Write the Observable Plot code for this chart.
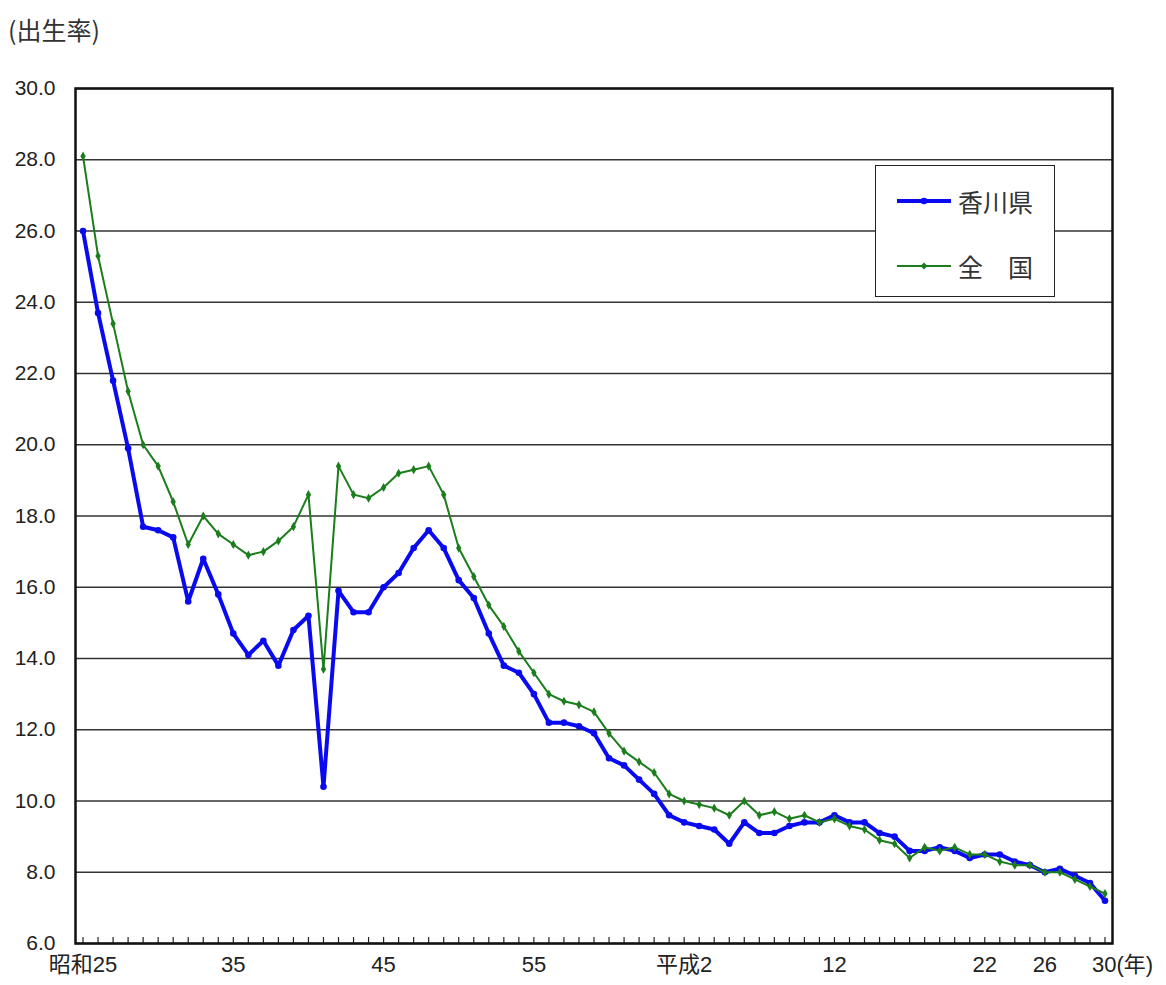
<!DOCTYPE html>
<html>
<head>
<meta charset="utf-8">
<script src="https://cdn.jsdelivr.net/npm/d3@7"></script>
<script src="https://cdn.jsdelivr.net/npm/@observablehq/plot@0.6"></script>
<style>
  body { margin: 0; background: #fff; }
  #wrap { position: relative; width: 1166px; height: 985px; font-family: "Liberation Sans", "Noto Sans CJK JP", sans-serif; color: #222; }
  #title { height: 60px; position: relative; }
  #title span { position: absolute; left: 8px; top: 12px; font-size: 25px; line-height: 34px; font-family: "Noto Sans CJK JP", sans-serif; color: #333; }
  #legend { position: absolute; left: 875px; top: 165px; width: 178px; height: 130px; border: 1.5px solid #222; background: #fff; }
  .row { position: absolute; left: 0; height: 40px; width: 178px; }
  .row svg { position: absolute; left: 20px; top: 0; }
  .row .lbl { position: absolute; left: 82px; top: 0; line-height: 40px; font-size: 25px; font-family: "Noto Sans CJK JP", sans-serif; color: #333; white-space: pre; }
</style>
</head>
<body>
<div id="wrap">
  <div id="title"><span>(出生率)</span></div>
  <div id="chart"></div>
  <div id="legend"></div>
</div>
<script>
// Years (昭和25 = 1950 … 平成30 = 2018)
const years = [1950,1951,1952,1953,1954,1955,1956,1957,1958,1959,
  1960,1961,1962,1963,1964,1965,1966,1967,1968,1969,
  1970,1971,1972,1973,1974,1975,1976,1977,1978,1979,
  1980,1981,1982,1983,1984,1985,1986,1987,1988,1989,
  1990,1991,1992,1993,1994,1995,1996,1997,1998,1999,
  2000,2001,2002,2003,2004,2005,2006,2007,2008,2009,
  2010,2011,2012,2013,2014,2015,2016,2017,2018];

// 香川県 birth rate
const kagawa = [26.0,23.7,21.8,19.9,17.7,17.6,17.4,15.6,16.8,15.8,
  14.7,14.1,14.5,13.8,14.8,15.2,10.4,15.9,15.3,15.3,
  16.0,16.4,17.1,17.6,17.1,16.2,15.7,14.7,13.8,13.6,
  13.0,12.2,12.2,12.1,11.9,11.2,11.0,10.6,10.2,9.6,
  9.4,9.3,9.2,8.8,9.4,9.1,9.1,9.3,9.4,9.4,
  9.6,9.4,9.4,9.1,9.0,8.6,8.6,8.7,8.6,8.4,
  8.5,8.5,8.3,8.2,8.0,8.1,7.9,7.7,7.2];

// 全国 birth rate
const zenkoku = [28.1,25.3,23.4,21.5,20.0,19.4,18.4,17.2,18.0,17.5,
  17.2,16.9,17.0,17.3,17.7,18.6,13.7,19.4,18.6,18.5,
  18.8,19.2,19.3,19.4,18.6,17.1,16.3,15.5,14.9,14.2,
  13.6,13.0,12.8,12.7,12.5,11.9,11.4,11.1,10.8,10.2,
  10.0,9.9,9.8,9.6,10.0,9.6,9.7,9.5,9.6,9.4,
  9.5,9.3,9.2,8.9,8.8,8.4,8.7,8.6,8.7,8.5,
  8.5,8.3,8.2,8.2,8.0,8.0,7.8,7.6,7.4];

const yTicks = [6,8,10,12,14,16,18,20,22,24,26,28,30];
const xLabelYears = [1950,1960,1970,1980,1990,2000,2010,2014];
const xLabels = ["昭和25","35","45","55","平成2","12","22","26"];
const lastLabelYear = [2018];
const lastLabel = ["30(年)"];

const seriesNames = ["香川県", "全　国"];
const seriesColors = ["#0a0af0", "#1b7d1b"];

const data = years.map((y, i) => ({year: y, kagawa: kagawa[i], zenkoku: zenkoku[i]}));
const xLab = xLabelYears.map((y, i) => ({year: y, label: xLabels[i]}));
const xLast = lastLabelYear.map((y, i) => ({year: y, label: lastLabel[i]}));

const chart = Plot.plot({
  width: 1166,
  height: 925,
  marginTop: 28,
  marginBottom: 42,
  marginLeft: 75,
  marginRight: 54,
  x: {domain: [years[0] - 0.5, years[years.length - 1] + 0.5], label: null},
  y: {domain: [yTicks[0], yTicks[yTicks.length - 1]], label: null},
  style: {fontFamily: "'Liberation Sans', 'Noto Sans CJK JP', sans-serif", fontSize: "21px", color: "#222", background: "#fff"},
  marks: [
    Plot.ruleY(yTicks, {stroke: "#333", strokeWidth: 1.6}),
    Plot.axisY(yTicks, {anchor: "left", label: null, tickSize: 0, tickPadding: 20, tickFormat: d => d.toFixed(1), fontSize: 21}),
    Plot.axisX(years, {anchor: "bottom", label: null, tickSize: 6, dy: -6, tickFormat: () => "", stroke: "#222", strokeWidth: 1.2}),
    Plot.text(xLab, {x: "year", text: "label", frameAnchor: "bottom", dy: 28, fontSize: 22, fill: "#222"}),
    Plot.text(xLast, {x: "year", text: "label", frameAnchor: "bottom", dy: 28, dx: -13, textAnchor: "start", fontSize: 22, fill: "#222"}),
    Plot.lineY(data, {x: "year", y: "kagawa", stroke: seriesColors[0], strokeWidth: 4}),
    Plot.dot(data, {x: "year", y: "kagawa", fill: seriesColors[0], r: 3.3, symbol: "circle"}),
    Plot.lineY(data, {x: "year", y: "zenkoku", stroke: seriesColors[1], strokeWidth: 2}),
    Plot.dot(data, {x: "year", y: "zenkoku", fill: seriesColors[1], r: 2.8, symbol: "diamond"}),
    Plot.frame({stroke: "#111", strokeWidth: 2.5})
  ]
});
document.getElementById("chart").appendChild(chart);

// Legend
const legend = document.getElementById("legend");
const rowTops = [15, 80];
seriesNames.forEach((name, i) => {
  const row = document.createElement("div");
  row.className = "row";
  row.style.top = rowTops[i] + "px";
  const w = i === 0 ? 4 : 2;
  const marker = i === 0
    ? `<circle cx="28" cy="20" r="3.3" fill="${seriesColors[i]}"/>`
    : `<path d="M28,16.5 L31.5,20 L28,23.5 L24.5,20 Z" fill="${seriesColors[i]}"/>`;
  row.innerHTML = `<svg width="56" height="40"><line x1="1" x2="55" y1="20" y2="20" stroke="${seriesColors[i]}" stroke-width="${w}"/>${marker}</svg><span class="lbl">${name}</span>`;
  legend.appendChild(row);
});
</script>
</body>
</html>
